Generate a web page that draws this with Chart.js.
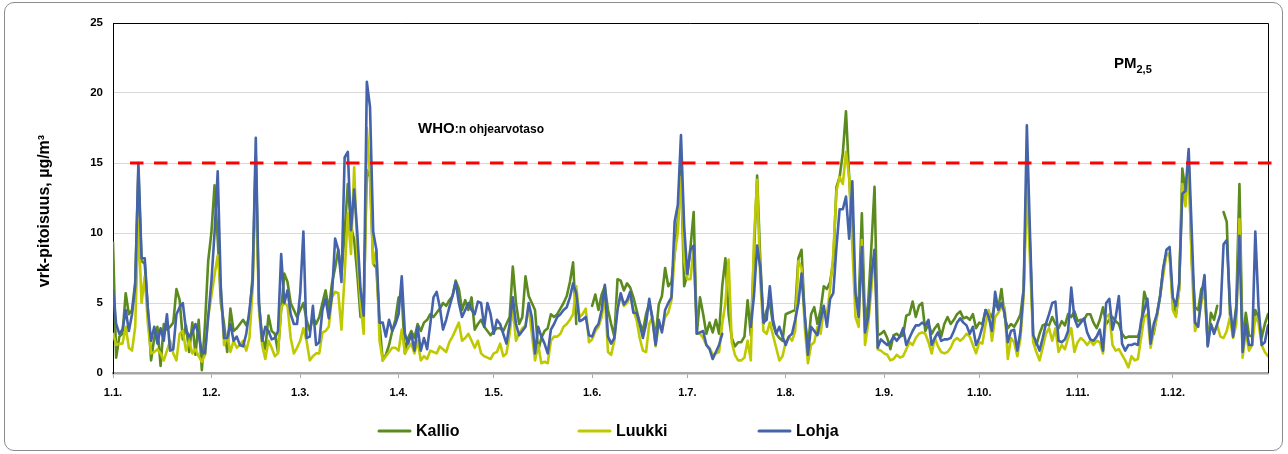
<!DOCTYPE html>
<html>
<head>
<meta charset="utf-8">
<script src="https://cdn.jsdelivr.net/npm/chart.js@4.4.1/dist/chart.umd.min.js"></script>
<style>
html,body{margin:0;padding:0;background:#fff;}
#wrap{position:relative;width:1288px;height:454px;overflow:hidden;}
canvas{position:absolute;left:0;top:0;}
#frame{position:absolute;left:4px;top:2px;width:1279px;height:449px;border:1px solid #8c8c8c;border-radius:10px;box-sizing:border-box;pointer-events:none;}
</style>
</head>
<body>
<div id="wrap"><canvas id="c" width="1288" height="454"></canvas><div id="frame"></div></div>
<script>
// ---- data (daily PM2.5, µg/m³; index = day of year, 0 = 1.1.) ----
const monthStarts = [0, 31, 59, 90, 120, 151, 181, 212, 243, 273, 304, 334];
const monthLabels = ['1.1.', '1.2.', '1.3.', '1.4.', '1.5.', '1.6.', '1.7.', '1.8.', '1.9.', '1.10.', '1.11.', '1.12.'];
const yTicks = [0, 5, 10, 15, 20, 25];
const whoGuideline = 15;
const seriesNames = ['Kallio', 'Luukki', 'Lohja'];

const kallio = [
 9.3,1.1,2.6,2.8,5.7,4.2,4.5,6.5,14.5,8.0,
 7.8,4.5,0.9,2.5,3.3,0.5,3.5,3.1,3.3,3.6,
 6.0,5.2,2.4,3.4,1.5,3.6,1.3,3.8,0.2,3.5,
 8.0,10.0,13.4,9.5,5.0,3.5,1.5,4.6,3.0,3.2,
 3.5,3.8,3.4,4.0,7.0,15.5,5.0,2.5,1.7,4.1,
 3.0,2.8,1.5,4.5,7.1,6.5,5.0,4.5,4.0,4.5,
 5.0,3.8,3.0,4.0,3.5,4.0,5.0,5.9,4.5,6.4,
 7.5,8.8,7.0,10.0,13.5,10.5,9.5,7.0,4.0,4.5,
 14.5,14.0,7.8,7.5,3.5,0.9,1.3,2.0,3.0,3.8,
 5.4,5.5,1.4,2.5,3.0,2.5,3.5,3.0,3.6,3.8,
 4.2,4.0,4.3,4.6,5.0,4.8,5.2,5.5,6.6,6.0,
 4.5,5.2,4.5,5.4,3.1,3.5,3.8,3.3,3.0,2.7,
 3.0,3.2,3.2,3.0,3.5,4.0,7.6,5.0,3.5,4.0,
 6.9,5.5,5.0,4.5,1.6,2.5,3.0,3.2,4.2,4.0,
 4.2,4.6,5.0,5.5,6.5,7.9,3.5,null,null,null,
 null,4.8,5.6,4.5,5.6,6.2,4.5,3.5,2.6,6.7,
 6.6,5.9,6.4,6.1,5.4,4.5,3.6,3.0,4.2,5.0,
 4.0,2.5,4.9,5.5,7.5,6.2,6.5,8.5,11.0,14.5,
 6.2,7.0,9.0,11.5,2.8,5.4,4.2,2.8,3.6,2.9,
 3.8,2.8,6.2,8.2,4.2,2.5,1.9,2.2,2.2,2.6,
 5.2,2.7,8.5,14.1,8.0,3.5,4.5,5.0,3.5,2.8,
 2.5,2.3,4.2,4.3,4.4,4.5,8.2,8.8,4.0,1.8,
 4.2,4.7,3.5,4.5,6.2,6.0,6.5,8.0,13.3,14.0,
 15.7,18.7,14.0,10.0,5.5,5.0,11.4,3.5,5.0,9.0,
 13.3,2.7,2.8,3.0,2.5,1.7,2.7,2.8,2.6,2.7,
 4.1,4.2,5.1,4.0,4.8,5.0,3.0,3.5,2.8,3.2,
 3.5,2.6,3.5,4.0,3.5,3.8,4.2,4.4,3.9,4.0,
 3.8,4.2,3.2,3.6,3.5,4.5,4.3,4.0,5.0,4.6,
 6.0,4.0,3.2,3.5,3.3,3.7,4.2,6.0,14.5,9.0,
 2.5,2.0,2.8,3.4,3.5,3.4,4.0,3.5,3.2,3.7,
 3.4,4.2,4.0,4.4,3.7,3.8,3.8,4.2,4.2,3.6,
 3.2,3.8,4.7,3.5,3.8,4.0,3.7,3.5,2.8,2.5,
 2.6,2.6,2.6,2.6,3.3,5.8,5.0,3.0,2.8,4.2,
 5.5,7.5,8.5,8.5,5.0,4.2,6.0,14.6,13.0,15.0,
 8.0,4.7,4.5,6.0,6.3,2.0,4.3,3.8,4.8,null,
 11.5,10.8,4.2,3.0,4.8,13.5,2.0,4.3,2.7,2.6,
 4.5,4.0,2.5,3.5,4.2
];

const luukki = [
 2.8,2.0,2.1,2.1,3.3,1.8,1.6,3.3,10.9,5.0,
 6.9,3.5,1.4,1.5,1.7,1.4,0.9,1.6,2.3,1.4,
 0.9,2.8,3.0,1.6,2.3,1.4,1.7,1.2,0.8,1.3,
 4.0,5.5,7.0,8.4,6.0,2.0,2.7,1.5,2.3,1.8,
 2.0,2.3,1.6,2.5,6.0,14.0,4.5,2.0,1.0,2.3,
 1.8,1.2,1.4,4.7,5.0,4.8,2.5,1.4,1.8,2.3,
 3.2,2.3,0.9,1.2,1.4,1.4,2.9,3.0,3.3,5.4,
 5.8,5.7,3.1,7.0,11.4,8.5,14.7,8.5,5.0,2.8,
 17.5,14.0,7.8,8.8,2.3,0.9,1.2,1.5,1.8,1.8,
 1.6,3.1,1.4,1.8,2.1,1.4,2.3,0.9,1.2,1.0,
 1.6,1.5,1.4,1.9,1.7,1.5,2.2,2.6,3.1,3.6,
 2.3,2.5,2.8,2.3,1.8,2.3,1.4,1.2,1.1,1.0,
 1.4,1.5,2.1,1.2,1.4,2.8,4.7,2.3,2.8,3.2,
 3.4,4.7,2.8,0.9,2.0,0.7,0.8,0.7,2.3,2.6,
 2.6,2.8,3.3,3.5,3.8,4.2,6.2,4.0,4.2,4.6,
 2.2,2.4,3.0,3.3,4.0,5.5,1.5,1.3,2.3,4.8,
 5.5,4.8,5.0,5.5,4.5,3.8,2.5,1.6,1.5,3.5,
 4.0,1.9,3.5,3.0,4.0,4.3,5.2,8.5,10.0,14.0,
 8.0,6.7,6.7,9.0,2.8,2.8,2.5,2.0,1.8,1.3,
 1.4,1.5,3.5,5.0,8.1,2.2,1.3,0.9,0.9,1.1,
 2.3,0.9,9.5,13.8,6.5,3.0,2.8,3.6,2.7,1.8,
 0.9,1.2,2.2,2.6,2.3,3.0,8.0,7.5,3.3,0.7,
 2.0,2.2,3.3,2.8,4.5,4.2,6.0,8.5,13.0,14.0,
 13.5,15.8,14.0,9.0,4.0,3.3,9.5,2.0,3.5,6.0,
 8.8,1.7,1.6,1.4,1.3,0.9,1.0,1.3,1.1,1.2,
 1.7,2.2,2.0,2.5,2.8,2.9,2.8,2.2,1.4,2.5,
 1.9,1.5,1.4,1.5,1.8,2.3,2.5,2.3,2.5,2.8,
 2.6,2.0,1.4,2.2,2.1,3.5,4.5,2.3,4.0,4.3,
 4.7,4.7,1.0,2.5,2.2,1.2,2.5,5.5,13.5,8.0,
 2.2,1.5,0.9,1.8,2.8,3.2,2.3,3.2,1.5,2.0,
 1.7,2.5,3.2,1.5,2.2,2.5,2.3,2.0,2.3,2.0,
 2.3,2.2,1.4,4.0,4.2,2.0,1.6,1.7,1.3,0.9,
 0.4,1.2,0.9,1.0,2.5,4.0,4.2,1.8,3.0,4.0,
 5.5,7.0,8.5,8.5,4.5,4.0,6.0,13.5,11.9,15.0,
 7.5,3.0,3.7,5.0,6.0,2.2,3.5,3.0,3.4,2.6,
 2.5,3.0,4.0,2.5,3.5,11.0,1.1,3.0,1.6,2.0,
 4.0,3.6,2.0,1.5,1.2
];

const lohja = [
 5.9,3.5,2.8,3.1,4.5,3.0,4.2,6.2,15.0,8.2,
 8.2,4.5,2.3,3.3,2.1,3.2,2.3,4.2,1.6,1.7,
 4.2,4.7,5.0,3.1,2.6,2.9,3.5,2.7,1.5,1.4,
 4.0,6.5,10.0,14.4,6.0,2.5,2.5,3.5,2.3,2.6,
 2.0,1.9,2.8,4.5,6.5,16.8,5.0,2.3,3.3,3.0,
 2.4,2.5,3.0,8.5,5.0,5.9,4.2,3.5,3.5,5.7,
 10.1,2.5,2.6,4.8,2.0,2.2,4.5,5.3,3.9,5.5,
 9.6,8.8,6.5,15.4,15.8,10.2,13.1,10.0,6.0,4.1,
 20.8,19.0,10.1,8.8,3.6,3.6,2.6,3.8,3.0,3.5,
 4.2,6.9,2.8,2.1,2.8,1.6,3.3,1.6,2.5,1.7,
 3.5,5.4,5.8,4.7,3.1,3.8,4.7,5.5,6.5,5.0,
 4.0,4.5,5.0,4.5,4.2,5.1,5.0,3.3,5.0,4.2,
 2.8,3.8,3.5,2.8,2.1,3.5,5.4,3.5,2.7,3.0,
 3.3,5.0,4.0,1.4,3.3,2.6,2.1,1.4,3.1,3.5,
 4.0,4.2,4.5,4.7,5.4,6.4,5.7,3.7,3.8,4.0,
 2.7,2.6,3.2,3.5,4.5,6.3,2.6,2.1,2.5,4.5,
 5.7,4.9,5.2,5.8,4.3,4.3,3.5,2.5,3.5,5.3,
 3.8,2.0,3.8,2.9,4.5,5.0,5.4,10.8,12.0,17.0,
 10.5,7.1,8.8,9.1,2.8,2.9,3.0,2.0,1.7,1.0,
 1.5,2.0,2.8,null,null,null,null,null,null,null,
 null,3.3,5.5,9.1,7.5,3.6,3.8,6.2,3.8,2.8,
 3.3,2.6,2.0,2.6,2.8,3.8,5.0,7.1,4.2,1.3,
 3.3,3.0,2.7,3.8,4.8,3.3,5.3,5.7,9.0,11.7,
 11.7,12.6,9.6,13.7,5.7,4.0,9.0,2.9,4.0,7.0,
 8.8,1.8,2.4,2.2,2.0,2.2,2.6,2.3,2.6,3.2,
 2.0,2.5,3.0,3.4,3.4,3.6,3.4,3.8,2.0,2.5,
 2.9,2.3,2.4,2.4,2.5,3.0,3.6,3.9,3.6,3.4,
 2.8,3.3,2.0,2.5,3.3,4.5,4.0,3.0,5.8,4.5,
 5.0,4.3,2.2,3.0,3.1,1.6,3.0,6.0,17.7,9.9,
 2.7,2.2,1.6,2.5,3.5,4.2,5.0,5.1,2.3,2.2,
 2.4,3.0,6.1,3.9,3.3,3.6,3.9,2.9,2.4,2.3,
 2.6,3.1,1.6,5.0,5.3,3.1,4.0,5.5,2.1,1.6,
 2.0,2.0,2.1,2.0,3.7,4.5,5.3,2.1,3.5,4.2,
 5.5,7.5,8.8,9.0,5.4,4.8,6.4,12.8,13.0,16.0,
 9.9,3.6,3.3,5.5,7.0,1.9,3.5,2.8,3.5,4.2,
 9.2,9.5,5.0,2.6,4.5,9.8,1.5,3.5,2.0,2.0,
 10.1,4.8,2.0,2.2,3.4
];

const seriesColors = ['#5b8a1e', '#bfc900', '#4463aa'];
const FONT = 'Liberation Sans, Arial, Helvetica, sans-serif';

const toXY = arr => arr.map((v, i) => ({x: i, y: v}));

// custom drawing: plot frame, WHO line, annotations, y title, legend
const decorPlugin = {
  id: 'decor',
  afterDatasetsDraw(chart) {
    const {ctx, chartArea: a, scales: {x, y}} = chart;
    ctx.save();
    // black frame on top and right
    ctx.strokeStyle = '#000';
    ctx.lineWidth = 1;
    ctx.beginPath();
    ctx.moveTo(a.left, a.top + 0.5);
    ctx.lineTo(a.right + 0.5, a.top + 0.5);
    ctx.lineTo(a.right + 0.5, a.bottom);
    ctx.stroke();
    // WHO guideline
    const yw = Math.round(y.getPixelForValue(whoGuideline));
    ctx.strokeStyle = '#ff0000';
    ctx.lineWidth = 3.2;
    ctx.setLineDash([13.5, 10.5]);
    ctx.beginPath();
    ctx.moveTo(a.left + 17, yw);
    ctx.lineTo(a.right + 7, yw);
    ctx.stroke();
    ctx.setLineDash([]);
    // WHO label
    ctx.fillStyle = '#000';
    ctx.textBaseline = 'alphabetic';
    ctx.textAlign = 'left';
    ctx.font = 'bold 15px ' + FONT;
    const wx = 418, wy = 133;
    ctx.fillText('WHO', wx, wy);
    const ww = ctx.measureText('WHO').width;
    ctx.font = 'bold 12px ' + FONT;
    ctx.fillText(':n ohjearvotaso', wx + ww, wy);
    // PM2,5
    ctx.font = 'bold 15px ' + FONT;
    ctx.fillText('PM', 1114, 68);
    const pw = ctx.measureText('PM').width;
    ctx.font = 'bold 11px ' + FONT;
    ctx.fillText('2,5', 1114 + pw, 73);
    ctx.restore();
  },
  afterDraw(chart) {
    const {ctx} = chart;
    ctx.save();
    // y axis title
    ctx.translate(45, 211);
    ctx.rotate(-Math.PI / 2);
    ctx.fillStyle = '#000';
    ctx.textAlign = 'center';
    ctx.textBaseline = 'middle';
    ctx.font = 'bold 16px ' + FONT;
    ctx.fillText('vrk-pitoisuus, µg/m³', 0, 0);
    ctx.restore();
    // legend
    ctx.save();
    const legendX = [379, 579, 759];
    const ly = 431;
    chart.data.datasets.forEach((ds, i) => {
      const lx = legendX[i];
      ctx.strokeStyle = ds.borderColor;
      ctx.lineWidth = 3;
      ctx.lineCap = 'round';
      ctx.beginPath();
      ctx.moveTo(lx, ly);
      ctx.lineTo(lx + 31, ly);
      ctx.stroke();
      ctx.fillStyle = '#000';
      ctx.font = 'bold 16px ' + FONT;
      ctx.textBaseline = 'middle';
      ctx.textAlign = 'left';
      ctx.fillText(ds.label, lx + 37, ly + 1);
    });
    ctx.restore();
  }
};

const mk = (name, data, color, order) => ({
  label: name,
  data: toXY(data),
  borderColor: color,
  backgroundColor: color,
  borderWidth: 2.6,
  pointRadius: 0,
  pointHoverRadius: 0,
  tension: 0,
  spanGaps: false,
  borderJoinStyle: 'round',
  borderCapStyle: 'round',
  order: order
});

new Chart(document.getElementById('c'), {
  type: 'line',
  data: {
    datasets: [
      mk(seriesNames[0], kallio, seriesColors[0], 3),
      mk(seriesNames[1], luukki, seriesColors[1], 2),
      mk(seriesNames[2], lohja, seriesColors[2], 1)
    ]
  },
  options: {
    responsive: false,
    animation: false,
    layout: {padding: {left: 32, right: 20, top: 23, bottom: 40}},
    plugins: {legend: {display: false}, tooltip: {enabled: false}, title: {display: false}},
    scales: {
      x: {
        type: 'linear',
        min: 0,
        max: 364,
        afterBuildTicks: s => { s.ticks = monthStarts.map(v => ({value: v})); },
        afterFit: s => { s.height = 454 - 373 - 40; },
        ticks: {
          autoSkip: false,
          maxRotation: 0,
          padding: 8,
          color: '#000',
          font: {family: FONT, size: 11, weight: 'bold'},
          callback: v => monthLabels[monthStarts.indexOf(v)]
        },
        grid: {display: true, drawOnChartArea: false, drawTicks: true, tickLength: 5, color: '#a6a6a6', lineWidth: 1},
        border: {display: true, color: '#a6a6a6', width: 2.5}
      },
      y: {
        min: 0,
        max: 25,
        afterBuildTicks: s => { s.ticks = yTicks.map(v => ({value: v})); },
        afterFit: s => { s.width = 113 - 32; },
        ticks: {
          padding: 10,
          color: '#000',
          font: {family: FONT, size: 11.5, weight: 'bold'}
        },
        grid: {color: '#d9d9d9', lineWidth: 1, drawTicks: false},
        border: {display: true, color: '#000', width: 1}
      }
    }
  },
  plugins: [decorPlugin]
});
</script>
</body>
</html>
